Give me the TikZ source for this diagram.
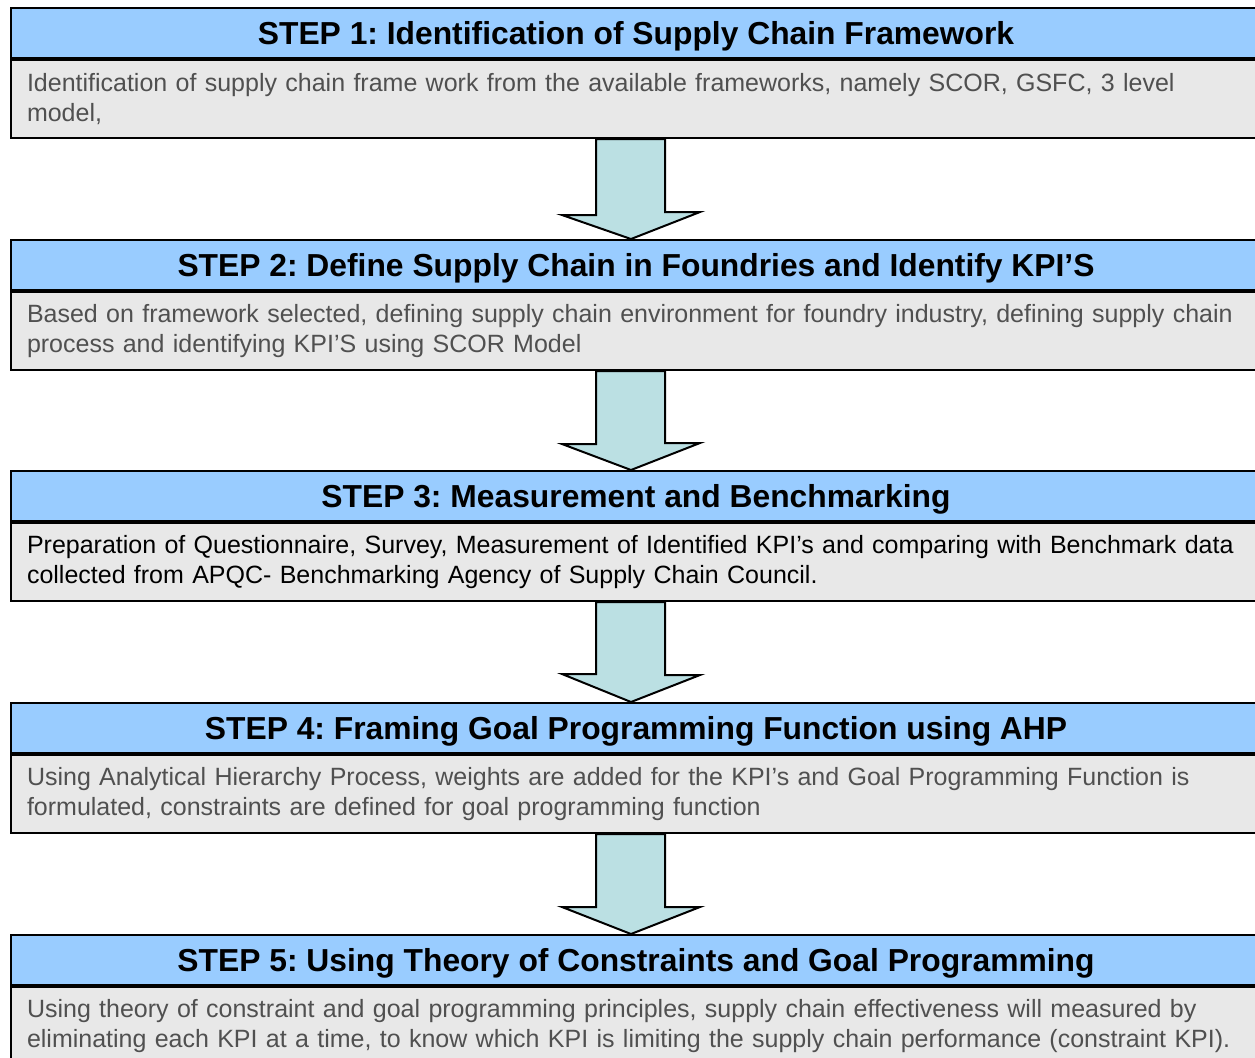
\documentclass[tikz,border=0pt]{standalone}
\usepackage{fontspec}
\setmainfont{Liberation Sans}
\usetikzlibrary{calc}
\definecolor{headblue}{HTML}{99CCFF}
\definecolor{arrowcyan}{HTML}{BBE0E3}
\definecolor{bodygray}{HTML}{E8E8E8}
\definecolor{textgray}{HTML}{505050}
\begin{document}
\frenchspacing
\begin{tikzpicture}[x=0.5pt,y=-0.5pt]
    \tikzstyle{head}=[draw, line width=1pt, fill=headblue, anchor=north west, inner sep=0pt,
        minimum width=625pt, minimum height=25pt, text depth=0pt,
        font=\bfseries\fontsize{15.9}{18}\selectfont]
    \tikzstyle{body}=[draw, line width=1pt, fill=bodygray, anchor=north west, inner xsep=8pt,
        text width=609pt, minimum height=39pt, align=left, text=textgray,
        font=\fontsize{12.5}{15}\selectfont]
    \tikzstyle{blockarrow}=[draw, line width=1pt, fill=arrowcyan, line join=miter]
    \useasboundingbox (0,0) rectangle (1255,1057);
    % steps
    \node[head] (h1) at (10,7) {STEP 1: Identification of Supply Chain Framework};
    \node[body] (b1) at (h1.south west) {Identification of supply chain frame work from the available frameworks, namely SCOR, GSFC, 3 level\\model,};
    \node[head] (h2) at (10,239) {STEP 2: Define Supply Chain in Foundries and Identify KPI’S};
    \node[body] (b2) at (h2.south west) {Based on framework selected, defining supply chain environment for foundry industry, defining supply chain\\process and identifying KPI’S using SCOR Model};
    \node[head] (h3) at (10,470) {STEP 3: Measurement and Benchmarking};
    \node[body, text=black] (b3) at (h3.south west) {Preparation of Questionnaire, Survey, Measurement of Identified KPI’s and comparing with Benchmark data\\collected from APQC- Benchmarking Agency of Supply Chain Council.};
    \node[head] (h4) at (10,702) {STEP 4: Framing Goal Programming Function using AHP};
    \node[body] (b4) at (h4.south west) {Using Analytical Hierarchy Process, weights are added for the KPI’s and Goal Programming Function is\\formulated, constraints are defined for goal programming function};
    \node[head] (h5) at (10,934) {STEP 5: Using Theory of Constraints and Goal Programming};
    \node[body] (b5) at (h5.south west) {Using theory of constraint and goal programming principles, supply chain effectiveness will measured by\\eliminating each KPI at a time, to know which KPI is limiting the supply chain performance (constraint KPI).};
    % arrows between steps
    \draw[blockarrow] ($(b1.south west)+(586,0)$) -- ++(0,76) -- ++(-34,0) -- ($(h2.north west)+(621,0)$) -- ++(69,-27) -- ++(-35,0) -- ($(b1.south west)+(655,0)$) -- cycle;
    \draw[blockarrow] ($(b2.south west)+(586,0)$) -- ++(0,73) -- ++(-34,0) -- ($(h3.north west)+(621,0)$) -- ++(69,-27) -- ++(-35,0) -- ($(b2.south west)+(655,0)$) -- cycle;
    \draw[blockarrow] ($(b3.south west)+(586,0)$) -- ++(0,72) -- ++(-34,0) -- ($(h4.north west)+(621,0)$) -- ++(69,-27) -- ++(-35,0) -- ($(b3.south west)+(655,0)$) -- cycle;
    \draw[blockarrow] ($(b4.south west)+(586,0)$) -- ++(0,73) -- ++(-34,0) -- ($(h5.north west)+(621,0)$) -- ++(69,-27) -- ++(-35,0) -- ($(b4.south west)+(655,0)$) -- cycle;
\end{tikzpicture}
\end{document}
